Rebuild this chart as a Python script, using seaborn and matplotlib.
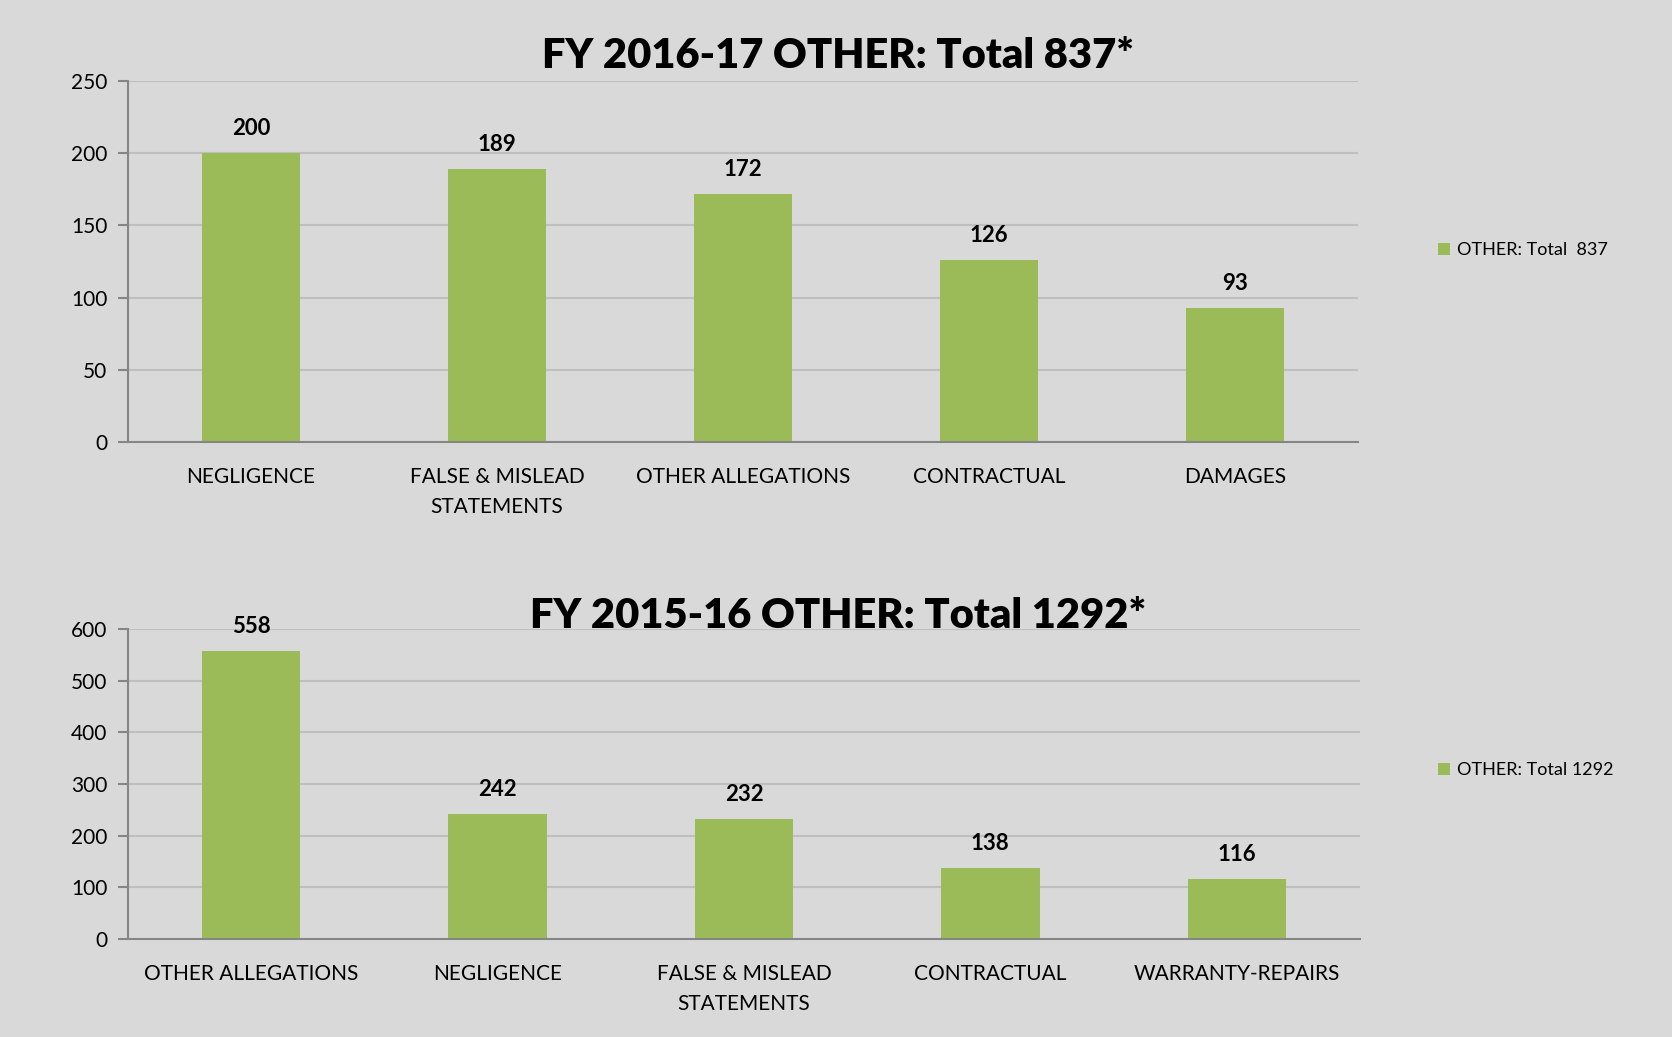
import pandas as pd
import numpy as np
import matplotlib.pyplot as plt
import seaborn as sns

# FY 2016-17
cats_1617 = ['NEGLIGENCE', 'FALSE & MISLEAD\nSTATEMENTS', 'OTHER ALLEGATIONS', 'CONTRACTUAL', 'DAMAGES']
vals_1617 = [200, 189, 172, 126, 93]
# FY 2015-16
cats_1516 = ['OTHER ALLEGATIONS', 'NEGLIGENCE', 'FALSE & MISLEAD\nSTATEMENTS', 'CONTRACTUAL', 'WARRANTY-REPAIRS']
vals_1516 = [558, 242, 232, 138, 116]

titles = ['FY 2016-17 OTHER: Total 837*', 'FY 2015-16 OTHER: Total 1292*']
legend_labels = ['OTHER: Total  837', 'OTHER: Total 1292']
y_ticks = [np.arange(0, 251, 50), np.arange(0, 601, 100)]

BG = '#D9D9D9'
GREEN = '#9BBB59'

sns.set_theme(style='white')
plt.rcParams['font.family'] = ['Lato', 'DejaVu Sans']

fig = plt.figure(figsize=(16.72, 10.37), dpi=100, facecolor=BG)
W, H = 1672, 1037
# axes boxes in pixels: left, top, right, bottom
boxes = [(128, 81, 1358, 442), (128, 629, 1360, 939)]
title_y = [56, 616]
legend_y = [250, 770]

for i, (cats, vals) in enumerate([(cats_1617, vals_1617), (cats_1516, vals_1516)]):
    l, t, r, b = boxes[i]
    ax = fig.add_axes([l / W, 1 - b / H, (r - l) / W, (b - t) / H])
    ax.set_facecolor(BG)
    df = pd.DataFrame({'cat': cats, 'val': vals})
    sns.barplot(data=df, x='cat', y='val', color=GREEN, width=0.4, ax=ax,
                label=legend_labels[i], saturation=1, linewidth=0, edgecolor='none')
    ax.bar_label(ax.containers[0], fontsize=16, fontweight='bold', padding=10, color='black')
    ax.set_xlim(-0.5, len(cats) - 0.5)
    ax.set_ylim(0, y_ticks[i][-1])
    ax.set_yticks(y_ticks[i])
    ax.set_xlabel('')
    ax.set_ylabel('')
    ax.yaxis.grid(True, color='#BFBFBF', linewidth=1.5)
    ax.set_axisbelow(True)
    for s in ['top', 'right']:
        ax.spines[s].set_visible(False)
    for s in ['left', 'bottom']:
        ax.spines[s].set_color('#868686')
        ax.spines[s].set_linewidth(1.5)
    ax.set_xticks(np.arange(-0.5, len(cats)), minor=True)
    ax.tick_params(axis='x', which='major', length=0, labelsize=15, pad=18, labelcolor='black')
    ax.tick_params(axis='x', which='minor', length=7, width=1.5, color='#868686', direction='out')
    ax.tick_params(axis='y', length=7, width=1.5, color='#868686', direction='out', left=True,
                   labelsize=15, labelcolor='black', pad=8)
    for lab in ax.get_xticklabels():
        lab.set_linespacing(1.6)
    fig.text(838 / W, 1 - title_y[i] / H, titles[i], ha='center', va='center',
             fontsize=30, fontweight='heavy', color='black')
    fig.legend(handles=ax.get_legend_handles_labels()[0], labels=[legend_labels[i]],
               loc='center left', bbox_to_anchor=(1438 / W, 1 - legend_y[i] / H),
               frameon=False, fontsize=13, handlelength=0.65, handleheight=0.65,
               handletextpad=0.4, borderaxespad=0, borderpad=0, labelcolor='black')
    if ax.get_legend() is not None:
        ax.get_legend().remove()

fig.savefig('out.png', dpi=100, facecolor=BG)
